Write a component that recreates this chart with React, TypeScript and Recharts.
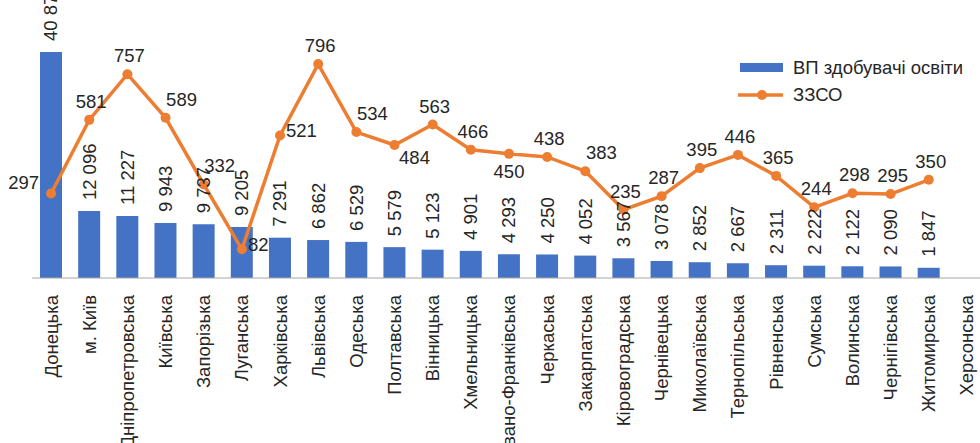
import { ComposedChart, Bar, Line, XAxis, YAxis, LabelList } from "recharts";

const regions = [
  "Донецька", "м. Київ", "Дніпропетровська", "Київська", "Запорізька", "Луганська",
  "Харківська", "Львівська", "Одеська", "Полтавська", "Вінницька", "Хмельницька",
  "Івано-Франківська", "Черкаська", "Закарпатська", "Кіровоградська", "Чернівецька",
  "Миколаївська", "Тернопільська", "Рівненська", "Сумська", "Волинська",
  "Чернігівська", "Житомирська", "Херсонська",
];

const students = [
  40870, 12096, 11227, 9943, 9737, 9205, 7291, 6862, 6529, 5579, 5123, 4901,
  4293, 4250, 4052, 3567, 3078, 2852, 2667, 2311, 2222, 2122, 2090, 1847, null,
];

const schools = [
  297, 581, 757, 589, 332, 82, 521, 796, 534, 484, 563, 466,
  450, 438, 383, 235, 287, 395, 446, 365, 244, 298, 295, 350, null,
];

// where each line label sits relative to its dot
const labelPlace = [
  "left", "above", "above", "aboveRight", "aboveRight", "right", "right", "above",
  "aboveRight", "belowRight", "above", "above", "below", "above", "aboveRight",
  "above", "above", "above", "above", "above", "above", "above", "above", "above",
];

const BLUE = "#4472C4";
const ORANGE = "#ED7D31";
const TEXT = "#262626";
const FONT = "'Liberation Sans', Arial, sans-serif";
const FS = 18.5;

const data = regions.map((name, i) => ({ name, students: students[i], schools: schools[i] }));

const fmt = (v: number) => String(v).replace(/\B(?=(\d{3})+(?!\d))/g, " ");

function RegionTick(props: any) {
  const { x, y, payload } = props;
  return (
    <text
      x={x}
      y={y + 9}
      transform={`rotate(-90, ${x}, ${y + 9})`}
      textAnchor="end"
      dy="0.35em"
      fontSize={FS}
      fontFamily={FONT}
      fill={TEXT}
    >
      {payload.value}
    </text>
  );
}

function BarValue(props: any) {
  const { x, y, width, value } = props;
  if (value == null) return null;
  const cx = x + width / 2;
  const ty = y - 11;
  return (
    <text
      x={cx}
      y={ty}
      transform={`rotate(-90, ${cx}, ${ty})`}
      textAnchor="start"
      dy="0.35em"
      fontSize={FS}
      fontFamily={FONT}
      fill={TEXT}
    >
      {fmt(value)}
    </text>
  );
}

const offsets: Record<string, { dx: number; dy: number; anchor: "start" | "middle" | "end" }> = {
  above: { dx: 2, dy: -12, anchor: "middle" },
  aboveRight: { dx: 16, dy: -12, anchor: "middle" },
  right: { dx: 6, dy: 2, anchor: "start" },
  left: { dx: -12, dy: -5, anchor: "end" },
  below: { dx: 0, dy: 24, anchor: "middle" },
  belowRight: { dx: 20, dy: 19, anchor: "middle" },
};

function LineValue(props: any) {
  const { x, y, value, index } = props;
  if (value == null) return null;
  const o = offsets[labelPlace[index]] || offsets.above;
  return (
    <text x={x + o.dx} y={y + o.dy} textAnchor={o.anchor} fontSize={FS} fontFamily={FONT} fill={TEXT}>
      {value}
    </text>
  );
}

function ChartLegend() {
  return (
    <svg width={242} height={50} style={{ position: "absolute", left: 738, top: 55 }}>
      <rect x={2} y={8} width={43} height={9} fill={BLUE} />
      <text x={55} y={13} dy="0.35em" fontSize={FS} fontFamily={FONT} fill={TEXT}>
        ВП здобувачі освіти
      </text>
      <line x1={0} y1={40} x2={45} y2={40} stroke={ORANGE} strokeWidth={3.5} />
      <circle cx={24} cy={40} r={5} fill={ORANGE} />
      <text x={55} y={40} dy="0.35em" fontSize={FS} fontFamily={FONT} fill={TEXT}>
        ЗЗСО
      </text>
    </svg>
  );
}

export default function App() {
  return (
    <div style={{ position: "absolute", left: 0, top: 0, width: 980, height: 443, overflow: "hidden", background: "#fff" }}>
      <ComposedChart
        width={1000}
        height={443}
        data={data}
        margin={{ top: 28, right: 14, bottom: 0, left: 32 }}
      >
        <XAxis
          dataKey="name"
          interval={0}
          height={165}
          tickLine={false}
          axisLine={{ stroke: "#A6A6A6", strokeWidth: 1 }}
          tick={<RegionTick />}
        />
        <YAxis yAxisId="left" hide domain={[0, 45200]} />
        <YAxis yAxisId="right" hide orientation="right" domain={[-28.5, 935]} />
        <Bar yAxisId="left" dataKey="students" fill={BLUE} barSize={22} isAnimationActive={false}>
          <LabelList dataKey="students" content={<BarValue />} />
        </Bar>
        <Line
          yAxisId="right"
          dataKey="schools"
          stroke={ORANGE}
          strokeWidth={3.5}
          dot={{ r: 5, fill: ORANGE, stroke: ORANGE, strokeWidth: 0 }}
          isAnimationActive={false}
        >
          <LabelList dataKey="schools" content={<LineValue />} />
        </Line>
      </ComposedChart>
      <ChartLegend />
    </div>
  );
}
